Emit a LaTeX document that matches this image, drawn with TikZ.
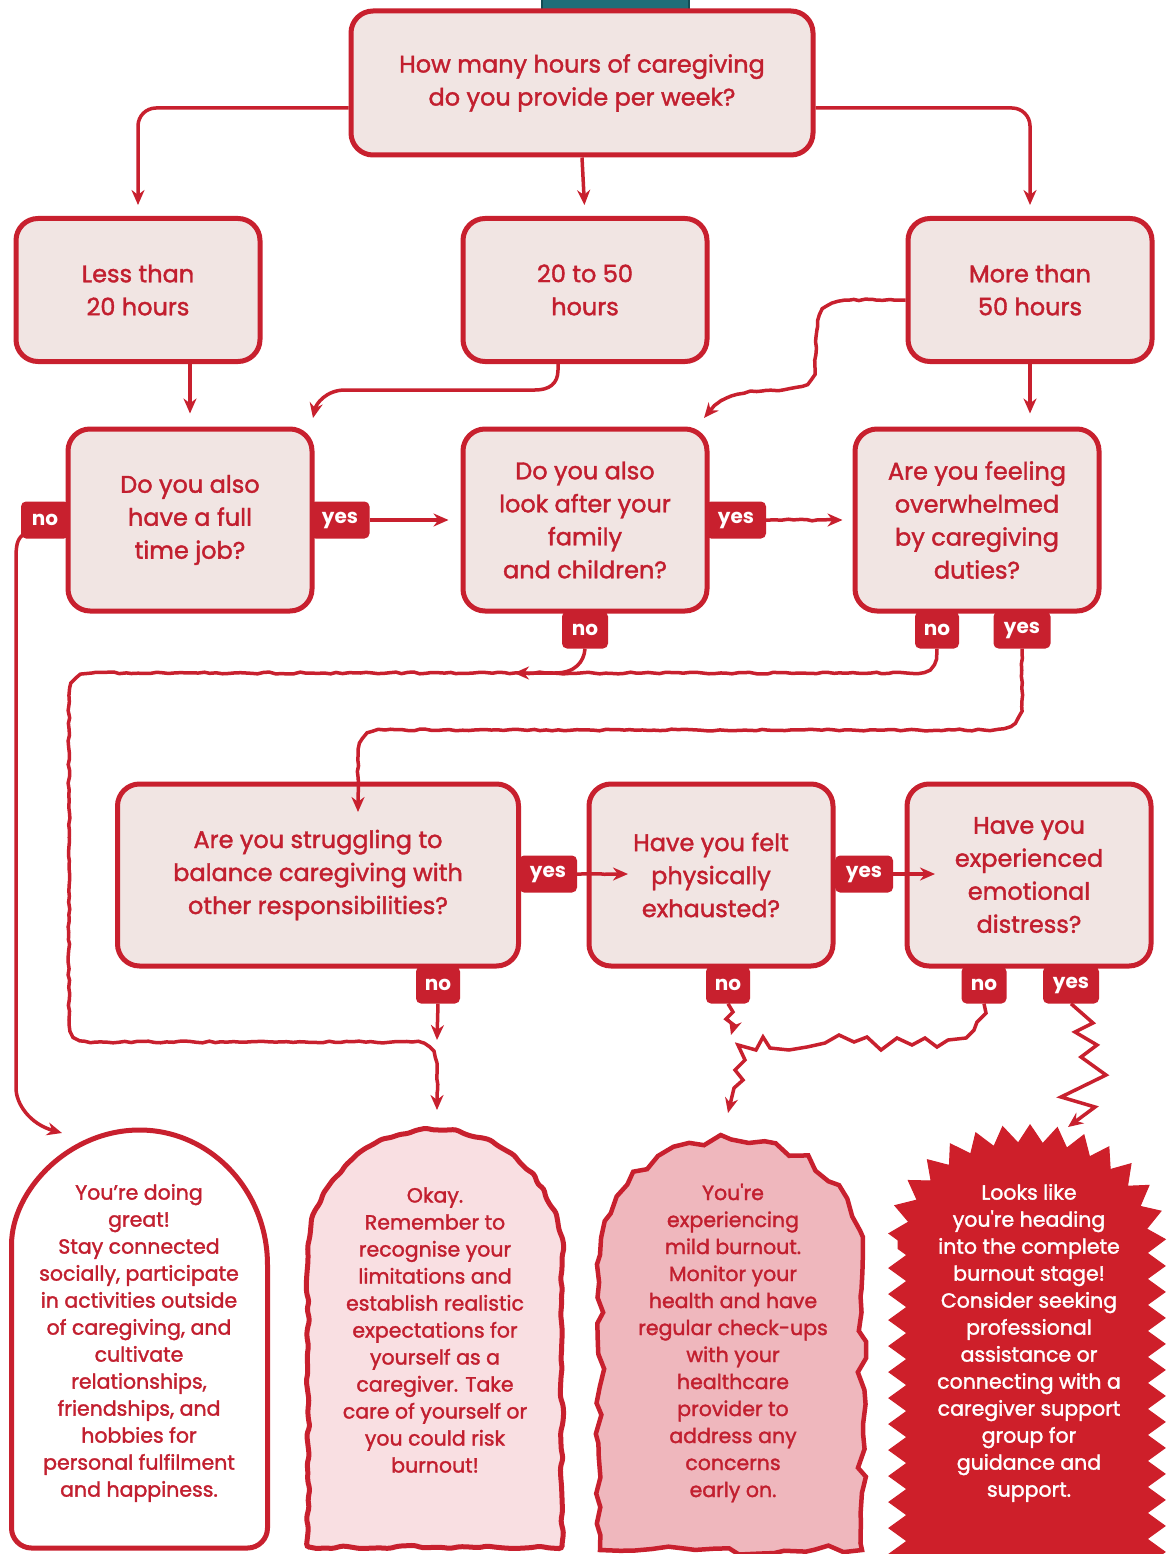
\documentclass[tikz,border=0pt]{standalone}
\usepackage{fontspec}
\setmainfont{Poppins}[FakeBold=1.6,Ligatures=TeXOff,BoldFeatures={FakeBold=0}]
\usetikzlibrary{arrows.meta,decorations.pathmorphing,calc}
\definecolor{cred}{HTML}{C8202E}
\definecolor{ctext}{HTML}{C21F2F}
\definecolor{cfill}{HTML}{F1E5E3}
\definecolor{cpink}{HTML}{F9DFE2}
\definecolor{cpinkb}{HTML}{EFB7BD}
\definecolor{cdeep}{HTML}{CE1F2A}
\definecolor{cteal}{HTML}{1F6E78}
\definecolor{ctealb}{HTML}{134B53}
\begin{document}
\begin{tikzpicture}[x=1pt,y=-1pt,
  qbox/.style={draw=cred, line width=5pt, fill=cfill, rounded corners=22pt, text=ctext, align=center, font=\fontsize{24}{33}\selectfont, inner sep=0pt},
  tabnode/.style={fill=cred, text=white, rounded corners=5pt, minimum height=37pt, inner sep=0pt, font=\bfseries\fontsize{20}{24}\selectfont},
  conn/.style={draw=cred, line width=3.5pt, -{Stealth[length=15pt,width=13pt]}},
  wob/.style={decorate, decoration={random steps, segment length=6pt, amplitude=0.9pt, pre length=4pt, post length=16pt}},
  zz/.style={draw=cred, line width=3.5pt, line join=miter, -{Stealth[length=15pt,width=13pt]}},
  otext/.style={align=center, font=\fontsize{20.5}{27}\selectfont, text=ctext, inner sep=0pt},
]
\pgfmathsetseed{7}
\useasboundingbox (0,0) rectangle (1169,1554);
\fill[white] (0,0) rectangle (1169,1554);

% teal element at top
\fill[cteal] (541,-5) rectangle (690,20);
\draw[ctealb, line width=2pt] (542,-5) -- (542,15) (689,-5) -- (689,15);

% question boxes
\node[qbox, minimum width=462pt, minimum height=144pt] (top) at (582,83) {How many hours of caregiving\\do you provide per week?};
\node[qbox, minimum width=244pt, minimum height=143pt] (h1) at (138,290) {Less than\\20 hours};
\node[qbox, minimum width=244pt, minimum height=143pt] (h2) at (585,290) {20 to 50\\hours};
\node[qbox, minimum width=244pt, minimum height=143pt] (h3) at (1030,290) {More than\\50 hours};
\node[qbox, minimum width=244pt, minimum height=182pt] (q1) at (190,520) {Do you also\\have a full\\time job?};
\node[qbox, minimum width=244pt, minimum height=182pt] (q2) at (585,520) {Do you also\\look after your\\family\\and children?};
\node[qbox, minimum width=244pt, minimum height=182pt] (q3) at (977,520) {Are you feeling\\overwhelmed\\by caregiving\\duties?};
\node[qbox, minimum width=401pt, minimum height=182pt] (q4) at (318,875) {Are you struggling to\\balance caregiving with\\other responsibilities?};
\node[qbox, minimum width=244pt, minimum height=182pt] (q5) at (711,875) {Have you felt\\physically\\exhausted?};
\node[qbox, minimum width=244pt, minimum height=182pt] (q6) at (1029,875) {Have you\\experienced\\emotional\\distress?};

% tabs
\node[tabnode, minimum width=48pt] (t1no) at (45,520) {no};
\node[tabnode, minimum width=59pt] (t1yes) at (340,520) {yes};
\node[tabnode, minimum width=60pt] (t2yes) at (736,520) {yes};
\node[tabnode, minimum width=46pt] (t2no) at (585,630) {no};
\node[tabnode, minimum width=44pt] (t3no) at (937,630) {no};
\node[tabnode, minimum width=57pt] (t3yes) at (1022,630) {yes};
\node[tabnode, minimum width=58pt] (t4yes) at (548,874) {yes};
\node[tabnode, minimum width=58pt] (t5yes) at (864,874) {yes};
\node[tabnode, minimum width=44pt] (t4no) at (438,985) {no};
\node[tabnode, minimum width=44pt] (t5no) at (728,985) {no};
\node[tabnode, minimum width=45pt] (t6no) at (984,985) {no};
\node[tabnode, minimum width=56pt] (t6yes) at (1071,985) {yes};

% outcome shapes
\draw[cred, line width=5pt, fill=white] (11.5,1265) .. controls (11.5,1190.4) and (68.8,1130) .. (139.5,1130) .. controls (210.2,1130) and (267.5,1190.4) .. (267.5,1265) [rounded corners=20pt] -- (267.5,1548) -- (11.5,1548) -- cycle;
\draw[cred, line width=5pt, fill=cpink, decorate, decoration={random steps, segment length=9pt, amplitude=1.8pt}, rounded corners=3pt] (308,1258) .. controls (308,1187.3) and (364.9,1130) .. (435,1130) .. controls (505.1,1130) and (562,1187.3) .. (562,1258) -- (562,1547) -- (308,1547) -- cycle;
\draw[cred, line width=4.5pt, fill=cpinkb, line join=miter, decorate, decoration={random steps, segment length=15pt, amplitude=4.5pt}] (600,1255) .. controls (600,1191.5) and (658.6,1140) .. (731,1140) .. controls (803.4,1140) and (862,1191.5) .. (862,1255) -- (862,1550) -- (600,1550) -- cycle;
\path[draw=cdeep, line width=1pt, fill=cdeep, decorate, decoration={zigzag, segment length=26pt, amplitude=9pt}] (898,1240) .. controls (898,1180.4) and (955.8,1134) .. (1027,1134) .. controls (1098.2,1134) and (1156,1180.4) .. (1156,1240) -- (1156,1580) -- (898,1580) -- cycle;

\node[otext] (o1) at (139,1343) {You’re doing\\great!\\Stay connected\\socially, participate\\in activities outside\\of caregiving, and\\cultivate\\relationships,\\friendships, and\\hobbies for\\personal fulfilment\\and happiness.};
\node[otext] (o2) at (435,1330) {Okay.\\Remember to\\recognise your\\limitations and\\establish realistic\\expectations for\\yourself as a\\caregiver. Take\\care of yourself or\\you could risk\\burnout!};
\node[otext] (o3) at (733,1343) {You're\\experiencing\\mild burnout.\\Monitor your\\health and have\\regular check-ups\\with your\\healthcare\\provider to\\address any\\concerns\\early on.};
\node[otext, text=white] (o4) at (1029,1343) {Looks like\\you're heading\\into the complete\\burnout stage!\\Consider seeking\\professional\\assistance or\\connecting with a\\caregiver support\\group for\\guidance and\\support.};

% arrow end coordinates
\coordinate (e1) at (313,418);
\coordinate (e2) at (704,418);
\coordinate (e3) at (62,1133);
\coordinate (e4) at (437,1110);
\coordinate (e5) at (514,673);
\coordinate (e6) at (358,812);
\coordinate (e7) at (437,1040);
\coordinate (e8) at (628,874);
\coordinate (e9) at (935,874);
\coordinate (e10) at (731,1035);
\coordinate (e11) at (728,1113);
\coordinate (e12) at (1068,1127);

% connectors
\draw[conn, rounded corners=18pt, shorten >=11pt] ([yshift=-25pt]top.west) -| (h1.north);
\draw[conn, shorten >=11pt] (top.south) -- (h2.north);
\draw[conn, rounded corners=18pt, shorten >=11pt] ([yshift=-25pt]top.east) -| (h3.north);
\draw[conn, shorten >=13pt] (h1.south -| q1.north) -- (q1.north);
\draw[conn, shorten >=13pt] (h3.south) -- (h3.south |- q3.north);
\draw[conn] ([xshift=-27pt]h2.south) -- ++(0,6) .. controls +(0,14) and +(14,0) .. (535,390) -- (345,390) .. controls (326,390) and (316,404) .. (e1);
\draw[conn, wob] ([yshift=-10pt]h3.west) -- (850,300) .. controls (826,300) and (818,310) .. (817,330) -- (815,368) .. controls (814,385) and (800,389) .. (762,391) .. controls (736,392) and (716,400) .. (e2);
\draw[conn, shorten >=12pt] (t1yes.east) -- (q2.west);
\draw[conn, wob, shorten >=10pt] (t2yes.east) -- (q3.west);
\draw[conn] ([shift={(2pt,4pt)}]t1no.south west) .. controls (17,540) and (16,545) .. (16,560) -- (16,1088) .. controls (16,1104) and (30,1124) .. (e3);
\draw[conn, wob] (t3no.south) .. controls (937,665) and (930,673) .. (912,673) -- (92,673) .. controls (73,673) and (69,685) .. (69,705) -- (69,1020) .. controls (69,1036) and (76,1042) .. (95,1042) -- (412,1042) .. controls (430,1042) and (437,1052) .. (437,1072) -- (e4);
\draw[conn] (t2no.south) .. controls (584,662) and (575,673) .. (555,673) -- (e5);
\draw[conn, wob] (t3yes.south) -- (1022,700) .. controls (1022,722) and (1012,730) .. (990,730) -- (385,730) .. controls (365,730) and (358,740) .. (358,760) -- (e6);
\draw[conn] (t4no.south) -- (e7);
\draw[conn, wob] (t4yes.east) -- (e8);
\draw[conn] (t5yes.east) -- (e9);
\draw[zz] (t5no.south) -- (733,1012) -- (726,1019) -- (734,1025) -- (e10);
\draw[zz] (t6no.south) -- (986,1013) -- (977,1022) -- (974,1030) -- (966,1038) -- (948,1040) -- (937,1047) -- (925,1038) -- (912,1045) -- (897,1038) -- (881,1050) -- (867,1037) -- (854,1042) -- (839,1035) -- (825,1043) -- (807,1047) -- (789,1050) -- (770,1048) -- (763,1037) -- (756,1050) -- (738,1045) -- (745,1060) -- (735,1070) -- (743,1080) -- (734,1088) -- (e11);
\draw[zz] (t6yes.south) -- (1093,1023) -- (1075,1032) -- (1097,1045) -- (1081,1057) -- (1106,1075) -- (1061,1097) -- (1095,1107) -- (e12);
\end{tikzpicture}
\end{document}
